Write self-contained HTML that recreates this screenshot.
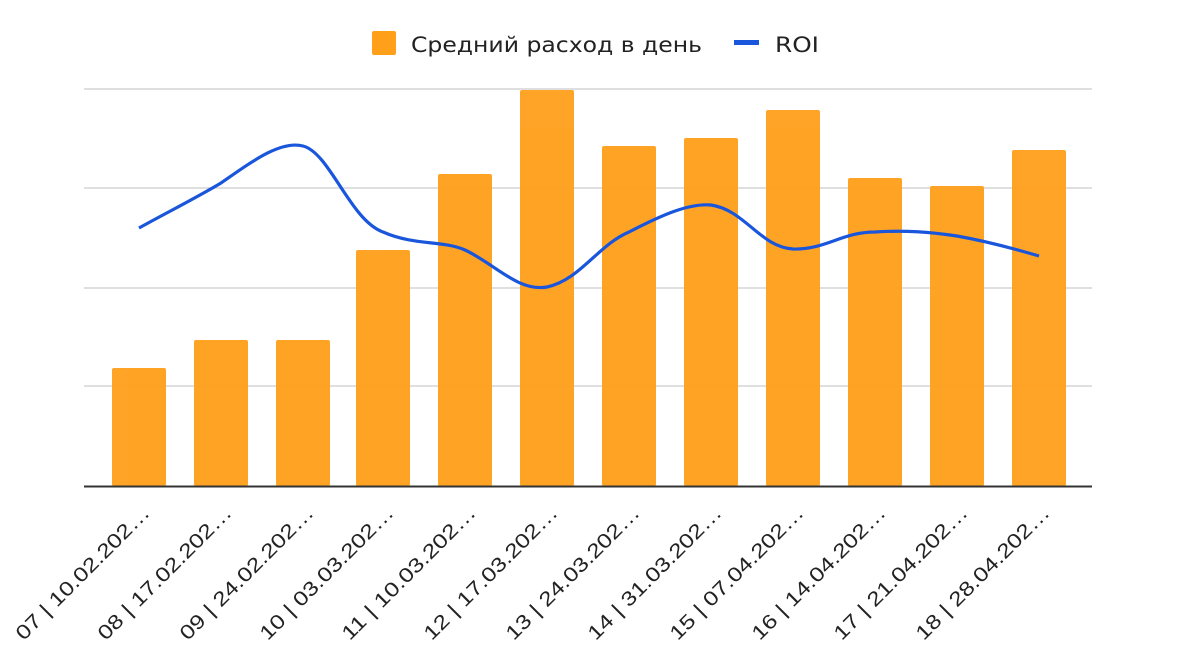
<!DOCTYPE html>
<html><head><meta charset="utf-8"><style>body{margin:0;background:#fff}svg{display:block}</style></head><body>
<svg width="1188" height="672" xmlns="http://www.w3.org/2000/svg" font-family="'DejaVu Sans','Liberation Sans',sans-serif">
<rect width="1188" height="672" fill="#fff"/>
<rect x="372" y="31" width="24" height="24" rx="2" fill="#ff9f1a"/>
<text x="411" y="52" font-size="21" fill="#222" textLength="291" lengthAdjust="spacingAndGlyphs">Средний расход в день</text>
<rect x="734" y="40" width="25" height="5" fill="#1a56db"/>
<text x="775" y="52" font-size="21" fill="#222" textLength="44" lengthAdjust="spacingAndGlyphs">ROI</text>
<g stroke="#ccc" stroke-width="1.3">
<line x1="84" y1="89" x2="1092" y2="89"/><line x1="84" y1="188" x2="1092" y2="188"/>
<line x1="84" y1="288" x2="1092" y2="288"/><line x1="84" y1="386" x2="1092" y2="386"/>
</g>
<g fill="#ff9f1a" opacity="0.95">
<rect x="112" y="368" width="54" height="118" rx="2"/>
<rect x="194" y="340" width="54" height="146" rx="2"/>
<rect x="276" y="340" width="54" height="146" rx="2"/>
<rect x="356" y="250" width="54" height="236" rx="2"/>
<rect x="438" y="174" width="54" height="312" rx="2"/>
<rect x="520" y="90" width="54" height="396" rx="2"/>
<rect x="602" y="146" width="54" height="340" rx="2"/>
<rect x="684" y="138" width="54" height="348" rx="2"/>
<rect x="766" y="110" width="54" height="376" rx="2"/>
<rect x="848" y="178" width="54" height="308" rx="2"/>
<rect x="930" y="186" width="54" height="300" rx="2"/>
<rect x="1012" y="150" width="54" height="336" rx="2"/>
</g>
<line x1="84" y1="486.5" x2="1092" y2="486.5" stroke="#333" stroke-width="2"/>
<path d="M139,228 C166,213 196,198 221,183 C250,163 280,140 303,146 C330,153 350,220 383,232 C415,246 442,240 465,250 C495,264 518,292 547,287 C580,280 598,245 629,232 C660,216 688,203 711,205 C745,210 760,247 793,249 C825,250 842,232 875,232 C905,230 930,232 957,236 C985,241 1012,248 1039,256" fill="none" stroke="#1a56db" stroke-width="3.2"/>
<g font-size="20" fill="#222" text-anchor="end" font-family="'Liberation Sans',sans-serif">
<text transform="translate(151,514) rotate(-45)" textLength="180" lengthAdjust="spacingAndGlyphs">07 | 10.02.202…</text>
<text transform="translate(233,514) rotate(-45)" textLength="180" lengthAdjust="spacingAndGlyphs">08 | 17.02.202…</text>
<text transform="translate(315,514) rotate(-45)" textLength="180" lengthAdjust="spacingAndGlyphs">09 | 24.02.202…</text>
<text transform="translate(395,514) rotate(-45)" textLength="180" lengthAdjust="spacingAndGlyphs">10 | 03.03.202…</text>
<text transform="translate(477,514) rotate(-45)" textLength="180" lengthAdjust="spacingAndGlyphs">11 | 10.03.202…</text>
<text transform="translate(559,514) rotate(-45)" textLength="180" lengthAdjust="spacingAndGlyphs">12 | 17.03.202…</text>
<text transform="translate(641,514) rotate(-45)" textLength="180" lengthAdjust="spacingAndGlyphs">13 | 24.03.202…</text>
<text transform="translate(723,514) rotate(-45)" textLength="180" lengthAdjust="spacingAndGlyphs">14 | 31.03.202…</text>
<text transform="translate(805,514) rotate(-45)" textLength="180" lengthAdjust="spacingAndGlyphs">15 | 07.04.202…</text>
<text transform="translate(887,514) rotate(-45)" textLength="180" lengthAdjust="spacingAndGlyphs">16 | 14.04.202…</text>
<text transform="translate(969,514) rotate(-45)" textLength="180" lengthAdjust="spacingAndGlyphs">17 | 21.04.202…</text>
<text transform="translate(1051,514) rotate(-45)" textLength="180" lengthAdjust="spacingAndGlyphs">18 | 28.04.202…</text>
</g>
</svg>
</body></html>
